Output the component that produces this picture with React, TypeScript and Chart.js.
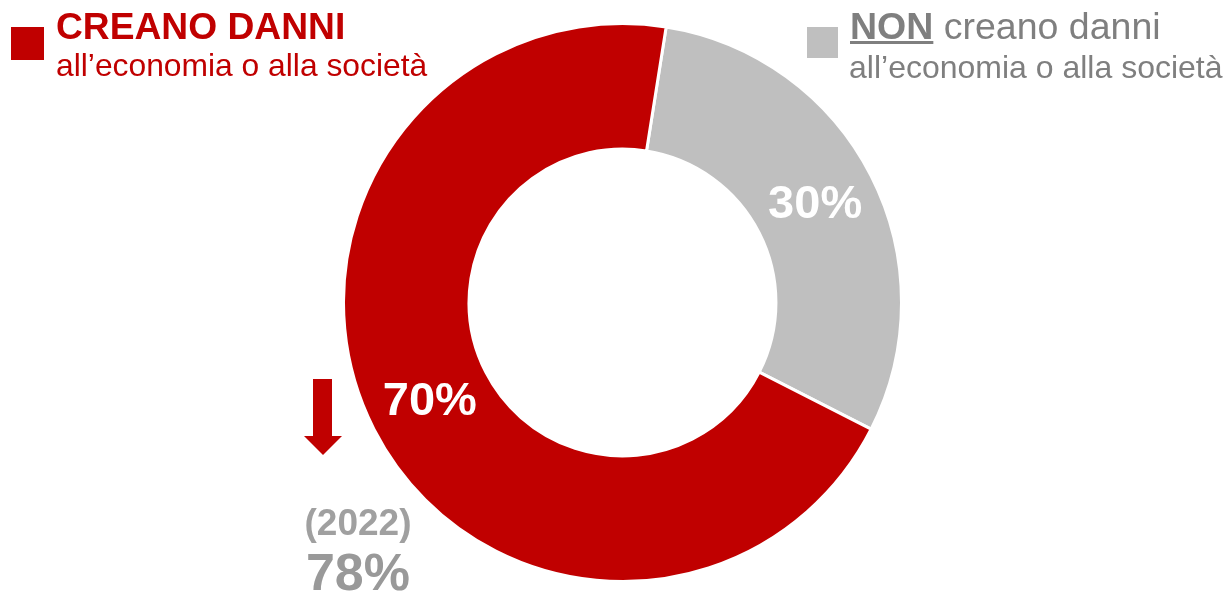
import React, { useEffect, useRef } from "react";
import { Chart, registerables } from "chart.js";

Chart.register(...registerables);

const categories = ["NON creano danni", "CREANO DANNI"];
const values = [30, 70];
const sliceColors = ["#BFBFBF", "#C00000"];
const sliceLabels = ["30%", "70%"];
const previousYear = "(2022)";
const previousValue = "78%";

const FONT = '"Liberation Sans", Arial, Helvetica, sans-serif';

const labelPlugin = {
  id: "sliceLabels",
  afterDatasetsDraw(chart: any) {
    const { ctx } = chart;
    const meta = chart.getDatasetMeta(0);
    ctx.save();
    ctx.fillStyle = "#FFFFFF";
    ctx.font = `bold 47px ${FONT}`;
    ctx.textAlign = "center";
    ctx.textBaseline = "middle";
    meta.data.forEach((arc: any, i: number) => {
      const p = arc.tooltipPosition();
      ctx.fillText(sliceLabels[i], p.x, p.y + 1);
    });
    ctx.restore();
  },
};

export default function App() {
  const ref = useRef<HTMLCanvasElement>(null);

  useEffect(() => {
    if (!ref.current) return;
    const chart = new Chart(ref.current, {
      type: "doughnut",
      data: {
        labels: categories,
        datasets: [
          {
            data: values,
            backgroundColor: sliceColors,
            borderColor: "#FFFFFF",
            borderWidth: 3,
            hoverOffset: 0,
          },
        ],
      },
      options: {
        responsive: false,
        animation: false,
        rotation: 9,
        cutout: "55%",
        layout: { padding: 0 },
        plugins: {
          legend: { display: false },
          tooltip: { enabled: false },
        },
      },
      plugins: [labelPlugin],
    });
    return () => chart.destroy();
  }, []);

  return (
    <div
      style={{
        position: "absolute",
        left: 0,
        top: 0,
        width: 1230,
        height: 594,
        overflow: "hidden",
        background: "#FFFFFF",
        fontFamily: FONT,
      }}
    >
      <canvas
        ref={ref}
        width={561}
        height={561}
        style={{ position: "absolute", left: 342, top: 21.5, width: 561, height: 561 }}
      />

      {/* Legend: red */}
      <div style={{ position: "absolute", left: 11, top: 27, width: 33, height: 33, background: "#C00000" }} />
      <div
        style={{
          position: "absolute",
          left: 56,
          top: 8,
          fontSize: 37.2,
          lineHeight: "37.2px",
          fontWeight: "bold",
          color: "#C00000",
          whiteSpace: "nowrap",
        }}
      >
        CREANO DANNI
      </div>
      <div
        style={{
          position: "absolute",
          left: 56,
          top: 50,
          fontSize: 31.8,
          lineHeight: "31.8px",
          color: "#C00000",
          whiteSpace: "nowrap",
        }}
      >
        all’economia o alla società
      </div>

      {/* Legend: grey */}
      <div style={{ position: "absolute", left: 807, top: 27, width: 31, height: 31, background: "#BFBFBF" }} />
      <div
        style={{
          position: "absolute",
          left: 850,
          top: 8,
          fontSize: 37.5,
          lineHeight: "37.5px",
          color: "#7F7F7F",
          whiteSpace: "nowrap",
        }}
      >
        <span style={{ fontWeight: "bold", textDecoration: "underline", textDecorationThickness: 3 }}>NON</span>{" "}
        creano danni
      </div>
      <div
        style={{
          position: "absolute",
          left: 849,
          top: 51,
          fontSize: 32,
          lineHeight: "32px",
          color: "#7F7F7F",
          whiteSpace: "nowrap",
        }}
      >
        all’economia o alla società
      </div>

      {/* Arrow */}
      <svg style={{ position: "absolute", left: 0, top: 0 }} width={1230} height={594}>
        <polygon points="313,379 332,379 332,436 342,436 323,455 304,436 313,436" fill="#C00000" />
      </svg>

      {/* Previous year */}
      <div
        style={{
          position: "absolute",
          left: 258,
          top: 504,
          width: 200,
          textAlign: "center",
          fontSize: 37,
          lineHeight: "37px",
          fontWeight: "bold",
          color: "#A0A0A0",
          whiteSpace: "nowrap",
        }}
      >
        {previousYear}
      </div>
      <div
        style={{
          position: "absolute",
          left: 258,
          top: 546,
          width: 200,
          textAlign: "center",
          fontSize: 52,
          lineHeight: "52px",
          fontWeight: "bold",
          color: "#999999",
          whiteSpace: "nowrap",
        }}
      >
        {previousValue}
      </div>
    </div>
  );
}
